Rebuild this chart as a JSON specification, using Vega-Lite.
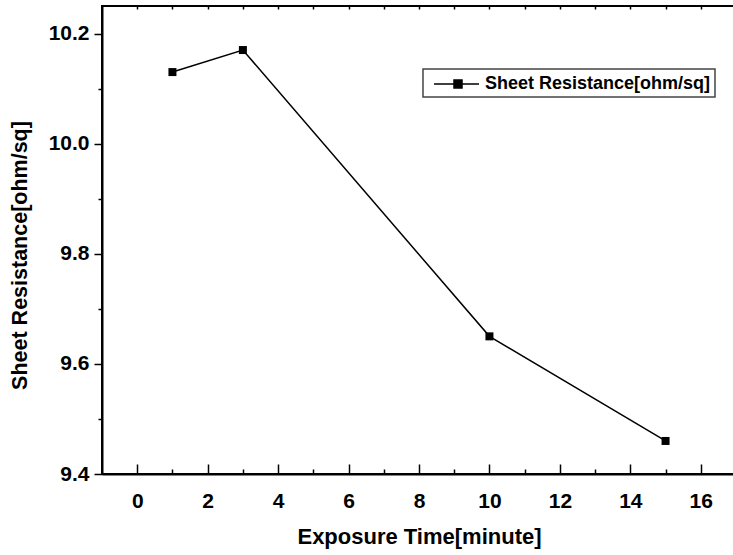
{
  "$schema": "https://vega.github.io/schema/vega-lite/v6.json",
  "autosize": "none",
  "padding": {"left": 102, "top": 6, "right": 0, "bottom": 81},
  "width": 634,
  "height": 468,
  "data": {"values": [
    {"time": 1, "resistance": 10.13, "series": "Sheet Resistance[ohm/sq]"},
    {"time": 3, "resistance": 10.17, "series": "Sheet Resistance[ohm/sq]"},
    {"time": 10, "resistance": 9.65, "series": "Sheet Resistance[ohm/sq]"},
    {"time": 15, "resistance": 9.46, "series": "Sheet Resistance[ohm/sq]"}
  ]},
  "config": {
    "view": {"stroke": "black", "strokeWidth": 2},
    "font": "Liberation Sans",
    "legend": {"strokeWidth": 1.5},
    "axis": {"grid": false, "domainColor": "black", "domainWidth": 2, "tickColor": "black", "tickWidth": 1.5,
             "labelFont": "Liberation Sans", "labelFontWeight": "bold", "labelColor": "black",
             "titleFont": "Liberation Sans", "titleFontWeight": "bold", "titleColor": "black"}
  },
  "layer": [
    {
      "mark": {"type": "line", "color": "black", "strokeWidth": 1.5},
      "encoding": {
        "x": {"field": "time", "type": "quantitative",
              "scale": {"domain": [-1, 17], "nice": false, "zero": false},
              "axis": {"orient": "bottom", "title": "Exposure Time[minute]",
                       "values": [0,1,2,3,4,5,6,7,8,9,10,11,12,13,14,15,16],
                       "labelExpr": "datum.value % 2 === 0 ? datum.label : ''",
                       "tickSize": {"condition": {"test": "datum.value % 2 === 0", "value": -10}, "value": -5},
                       "labelPadding": 26, "labelFontSize": 21, "titleFontSize": 22, "titlePadding": 15}},
        "y": {"field": "resistance", "type": "quantitative",
              "scale": {"domain": [9.4, 10.25], "nice": false, "zero": false},
              "axis": {"orient": "left", "title": "Sheet Resistance[ohm/sq]",
                       "values": [9.4,9.5,9.6,9.7,9.8,9.9,10.0,10.1,10.2],
                       "format": ".1f",
                       "labelExpr": "round(datum.value*10) % 2 === 0 ? datum.label : ''",
                       "tickSize": {"condition": {"test": "round(datum.value*10) % 2 === 0", "value": 8}, "value": 4},
                       "labelPadding": 5, "labelFontSize": 21, "titleFontSize": 21.5, "titlePadding": 17, "titleY": 249}}
      }
    },
    {
      "mark": {"type": "point", "shape": "square", "filled": true, "size": 64, "opacity": 1},
      "encoding": {
        "x": {"field": "time", "type": "quantitative",
              "axis": {"orient": "top", "title": null, "labels": false, "domain": false,
                       "values": [0,1,2,3,4,5,6,7,8,9,10,11,12,13,14,15,16], "tickSize": -3}},
        "y": {"field": "resistance", "type": "quantitative", "axis": null},
        "color": {"field": "series", "type": "nominal",
                  "scale": {"range": ["black"]},
                  "legend": {"title": null, "orient": "none", "legendX": 321, "legendY": 63,
                             "symbolType": "M-0.4,0H4.1M1.6,-0.4H2.4V0.4H1.6Z",
                             "symbolSize": 400, "symbolStrokeWidth": 1.5, "symbolFillColor": "black", "symbolStrokeColor": "black",
                             "labelFont": "Liberation Sans", "labelFontWeight": "bold", "labelFontSize": 18, "labelColor": "black",
                             "labelOffset": 36, "labelLimit": 400,
                             "strokeColor": "#444", "padding": 4}}
      }
    }
  ],
  "resolve": {"axis": {"x": "independent", "y": "independent"}}
}
